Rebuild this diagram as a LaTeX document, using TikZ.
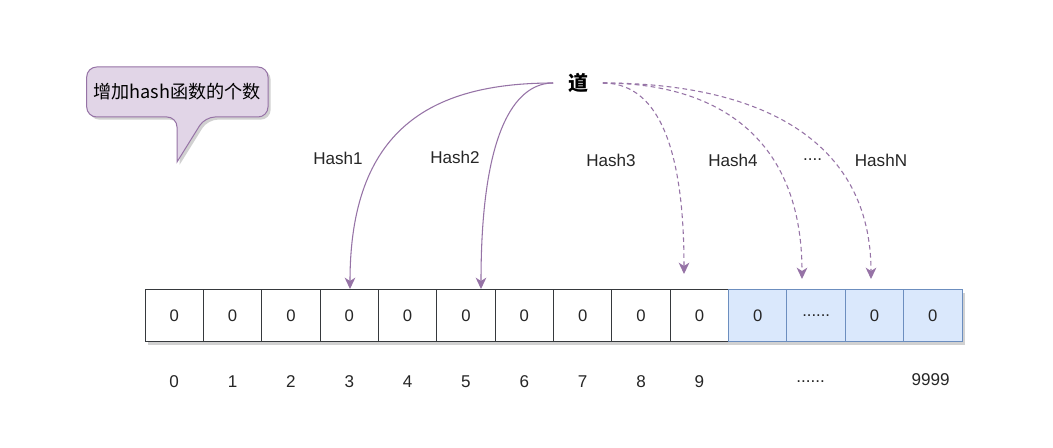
\documentclass[tikz,border=0pt]{standalone}
\usepackage{fontspec}
\setmainfont{Liberation Sans}
\newfontfamily\cjk{Noto Sans CJK SC}
\usetikzlibrary{arrows.meta,shadows}
\definecolor{purp}{HTML}{9673A6}
\definecolor{purpfill}{HTML}{E1D5E7}
\definecolor{bluefill}{HTML}{DAE8FC}
\definecolor{bluedraw}{HTML}{6C8EBF}
\definecolor{celldraw}{HTML}{36393D}
\begin{document}
\begin{tikzpicture}[x=0.75pt,y=-0.75pt,
  shd/.style={drop shadow={shadow xshift=2pt, shadow yshift=-2pt, opacity=0.18, fill=black}},
  cellbox/.style={draw=celldraw, fill=white, line width=0.75pt, minimum width=43.77pt, minimum height=39pt, inner sep=0pt, font=\fontsize{12.5}{14}\selectfont, text=black!85, shd},
  bluebox/.style={cellbox, draw=bluedraw, fill=bluefill},
  lbl/.style={font=\fontsize{12.8}{14}\selectfont, text=black!85, inner sep=1pt},
  conn/.style={draw=purp, line width=0.8pt, -{Stealth[length=8.5pt,width=8pt,inset=2.5pt]}},
  dconn/.style={conn, dash pattern=on 3.5pt off 2.5pt},
  calloutshape/.style={draw=purp, fill=purpfill, line width=0.75pt, shd}
]
\fill[white] (0,0) rectangle (1053,448);
\useasboundingbox (0,0) rectangle (1053,448);

% callout
\path[calloutshape, rounded corners=7.5pt] (180,67) -- (268,67) -- (268,117) -- (205,117) [sharp corners] -- (177,162) [rounded corners=7.5pt] -- (177,117) -- (86.7,117) -- (86.7,67) -- cycle;
\node[inner sep=0pt] (callout) at (177,92) {\cjk\fontsize{13.6}{16}\selectfont 增加hash函数的个数};

% cells
\foreach \i in {0,...,9} {
  \node[cellbox] (c\i) at ({174.18+58.36*\i},316) {0};
}
\node[bluebox] (c10) at ({174.18+58.36*10},316) {0};
\node[bluebox] (c11) at ({174.18+58.36*11},316) {......};
\node[bluebox] (c12) at ({174.18+58.36*12},316) {0};
\node[bluebox] (c13) at ({174.18+58.36*13},316) {0};

% index labels
\foreach \i in {0,...,9} {
  \node[lbl] (i\i) at ({174.18+58.36*\i},382) {\i};
}
\node[lbl] (i11) at (810.7,382) {......};
\node[lbl] (i13) at (930.7,380) {9999};

% value node
\node[inner sep=0pt, minimum width=36.75pt, minimum height=18pt] (v) at (578,83) {\cjk\bfseries\fontsize{15}{17}\selectfont 道};

% targets
\coordinate (t1) at (350,289);
\coordinate (t2) at (481,289);
\coordinate (t3) at (684,274);
\coordinate (t4) at (802,279);
\coordinate (t5) at (871,279);

% connectors
\draw[conn] (v.west) .. controls (430,83) and (350,130) .. (t1);
\draw[conn] (v.west) .. controls (520,83) and (481,120) .. (t2);
\draw[dconn] (v.east) .. controls (650,83) and (684,130) .. (t3);
\draw[dconn] (v.east) .. controls (720,83) and (802,140) .. (t4);
\draw[dconn] (v.east) .. controls (760,83) and (871,140) .. (t5);

% connector labels
\node[lbl] (h1) at (338,158) {Hash1};
\node[lbl] (h2) at (455,157) {Hash2};
\node[lbl] (h3) at (611,160) {Hash3};
\node[lbl] (h4) at (733,160) {Hash4};
\node[lbl] (h5) at (812.5,160) {....};
\node[lbl] (h6) at (881,160) {HashN};
\end{tikzpicture}
\end{document}
